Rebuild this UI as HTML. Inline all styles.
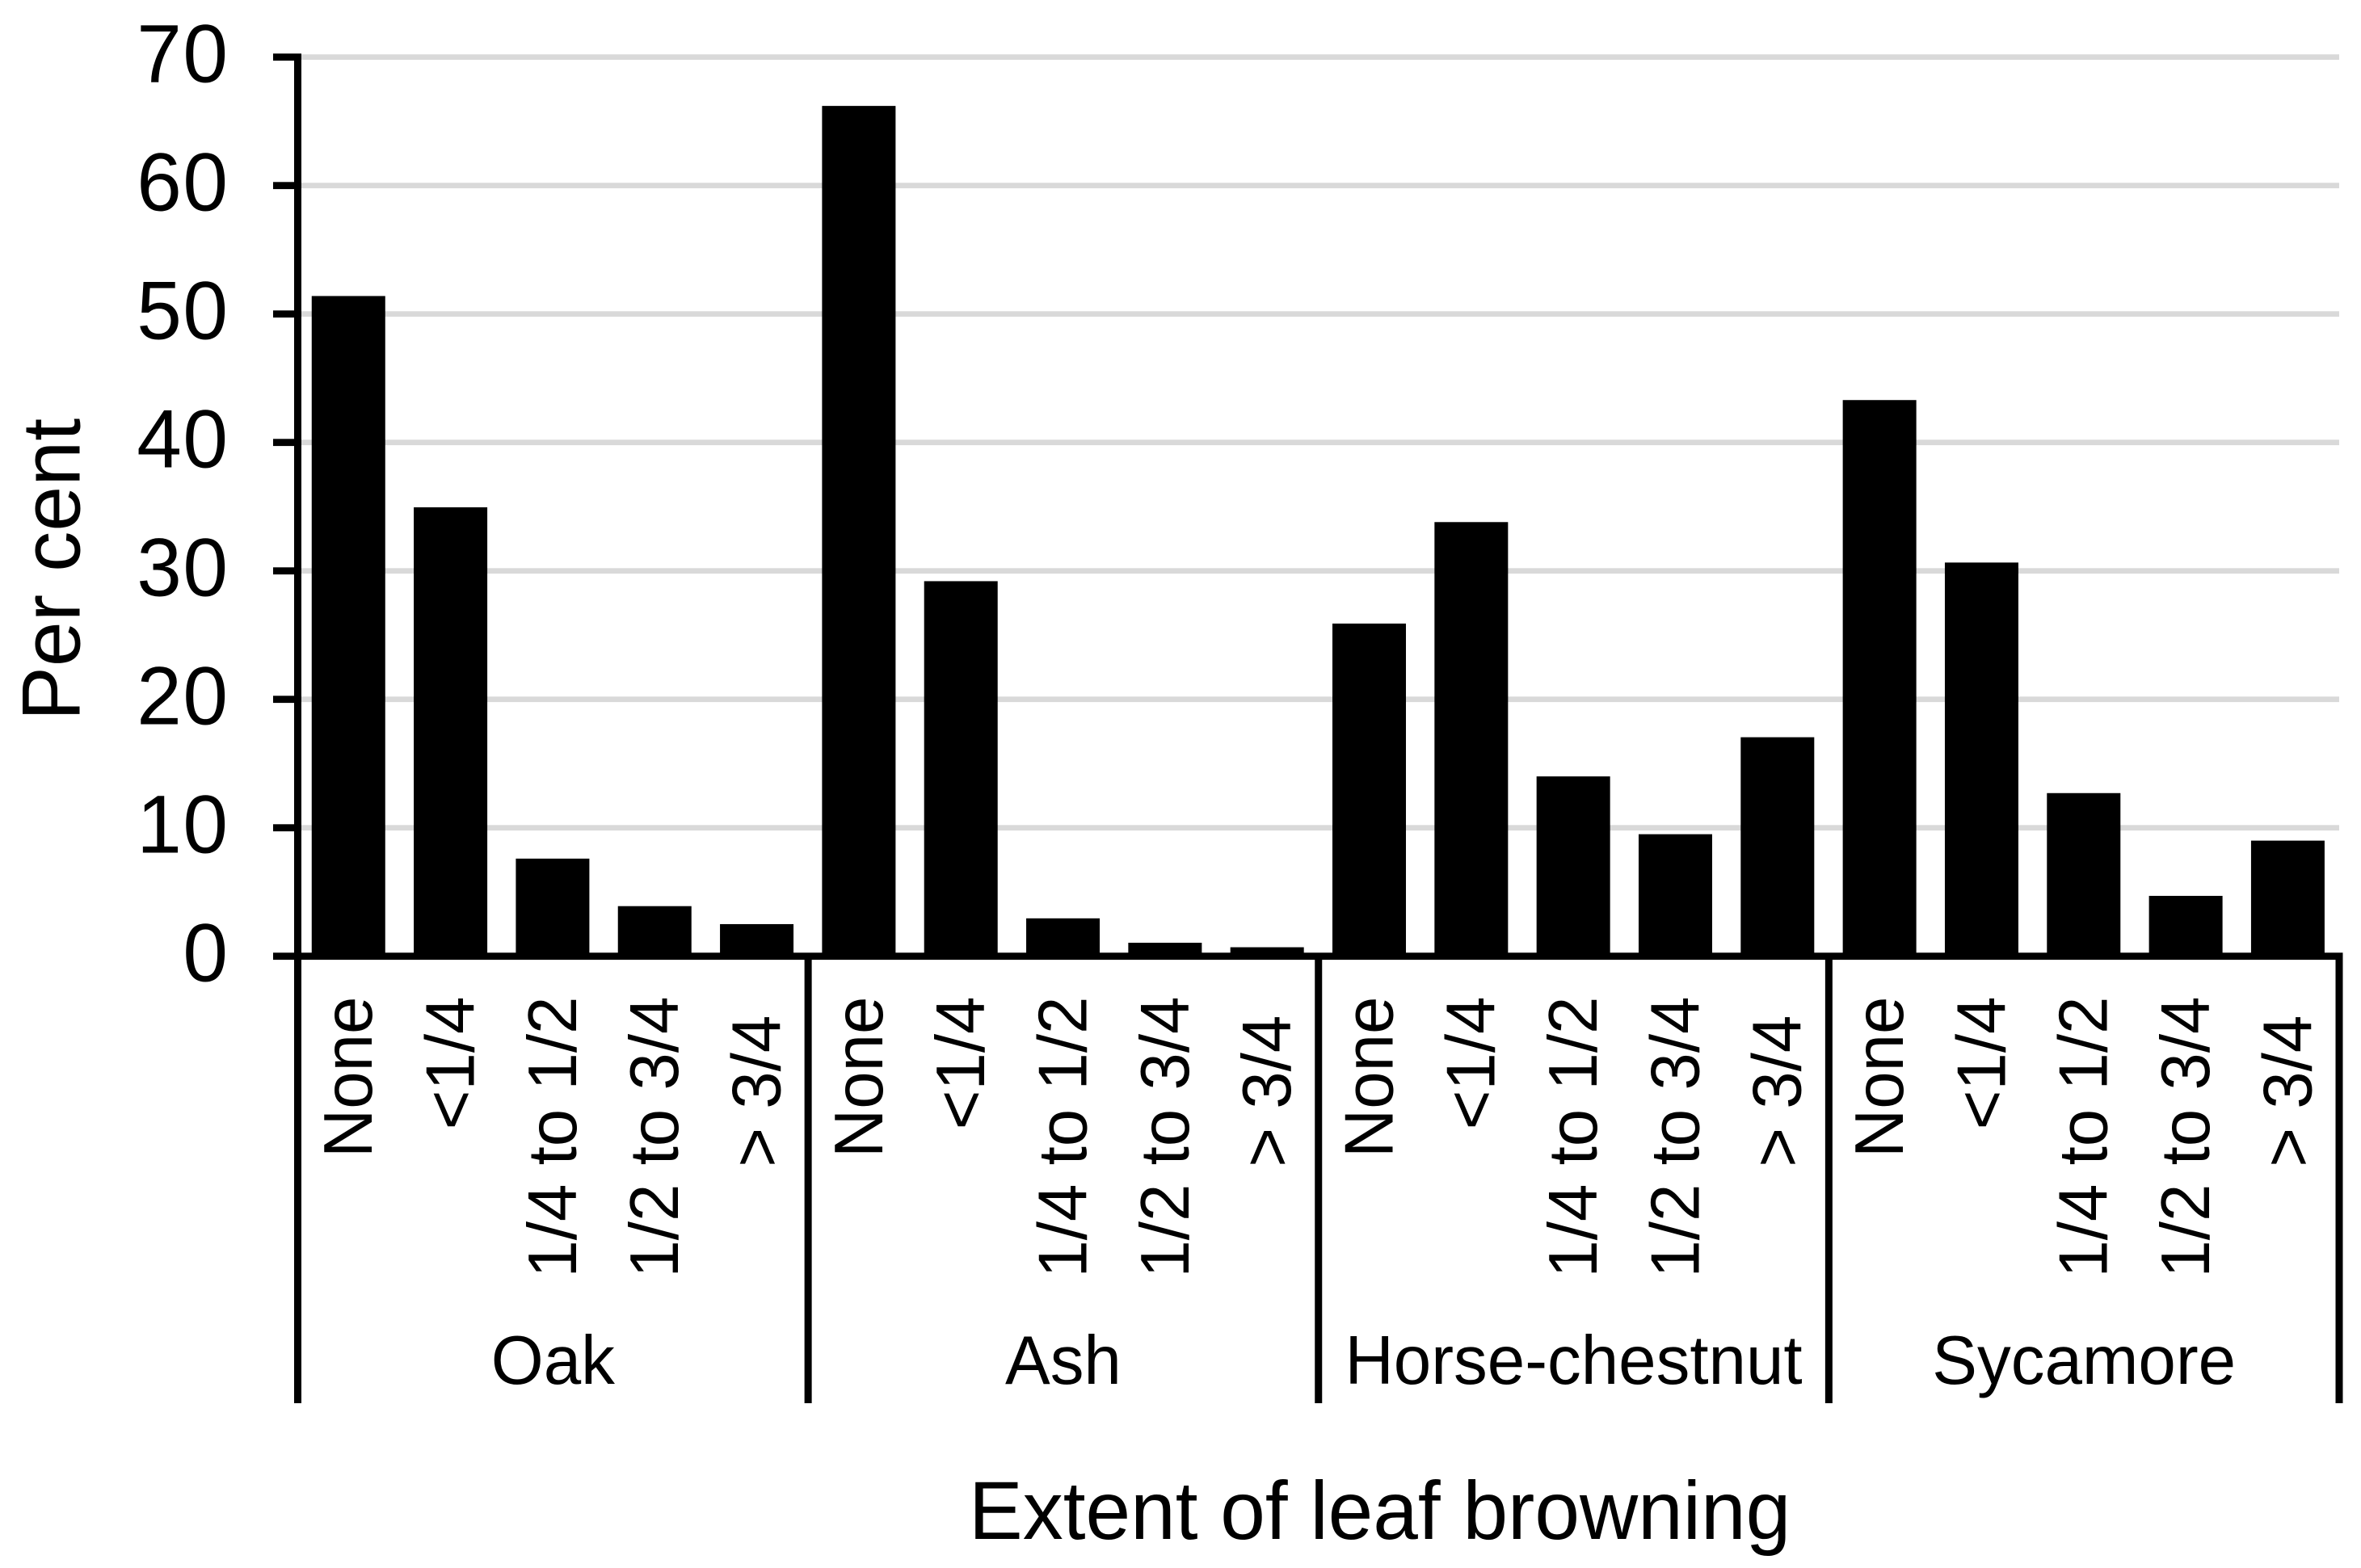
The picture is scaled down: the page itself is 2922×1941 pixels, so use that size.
<!DOCTYPE html>
<html lang="en">
<head>
<meta charset="utf-8">
<title>Extent of leaf browning by tree species</title>
<style>
html,body{margin:0;padding:0;background:#fff;width:2922px;height:1941px;overflow:hidden}
svg{display:block;font-family:"Liberation Sans",Arial,sans-serif;fill:#000}
text{white-space:pre}
</style>
</head>
<body>
<svg id="chart" xmlns="http://www.w3.org/2000/svg" width="2922" height="1941" viewBox="0 0 2922 1941">
  <rect x="0" y="0" width="2922" height="1941" fill="#ffffff"></rect>
  <g id="gridlines"></g>
  <g id="bars"></g>
  <g id="axes"></g>
  <g id="labels"></g>
  <text transform="translate(98.5 705) rotate(-90) scale(1 1.02)" text-anchor="middle" font-size="100.5">Per cent</text>
  <text transform="translate(1199 1905) scale(1 1.02)" text-anchor="start" font-size="100">Extent of leaf browning</text>
</svg>
<script>
const groups = ['Oak', 'Ash', 'Horse-chestnut', 'Sycamore'];
const categories = ['None', '<1/4', '1/4 to 1/2', '1/2 to 3/4', '> 3/4 '];
const oakValues = [51.4, 34.95, 7.6, 3.9, 2.5];
const ashValues = [66.2, 29.2, 2.95, 1.05, 0.7];
const horseChestnutValues = [25.9, 33.8, 14, 9.5, 17.05];
const sycamoreValues = [43.3, 30.65, 12.7, 4.7, 9];
const yTicks = [0, 10, 20, 30, 40, 50, 60, 70];

const seriesValues = [oakValues, ashValues, horseChestnutValues, sycamoreValues];

const NS = 'http://www.w3.org/2000/svg';
const plotLeft = 368.5;
const plotRight = 2895;
const plotZero = 1183.7;
const pxPerUnit = 15.9;
const barWidth = 91;
const groupWidth = (plotRight - plotLeft) / groups.length;
const catWidth = groupWidth / categories.length;
const glyphStretch = 'scale(1 1.02)';

function yScale(v) { return plotZero - v * pxPerUnit; }
function groupX(g) { return plotLeft + g * groupWidth; }
function catCenter(g, c) { return groupX(g) + (c + 0.5) * catWidth; }

function makeRect(parent, x, y, w, h, fill) {
  const r = document.createElementNS(NS, 'rect');
  r.setAttribute('x', x);
  r.setAttribute('y', y);
  r.setAttribute('width', w);
  r.setAttribute('height', h);
  r.setAttribute('fill', fill);
  parent.appendChild(r);
  return r;
}
function makeText(parent, content, size, anchor) {
  const t = document.createElementNS(NS, 'text');
  t.textContent = content;
  t.setAttribute('font-size', size);
  t.setAttribute('text-anchor', anchor);
  parent.appendChild(t);
  return t;
}

const gridLayer = document.getElementById('gridlines');
const barLayer = document.getElementById('bars');
const axisLayer = document.getElementById('axes');
const labelLayer = document.getElementById('labels');

// Gridlines, y ticks and y tick labels
yTicks.forEach(function (v) {
  if (v !== 0) {
    const grid = makeRect(gridLayer, plotLeft + 4.5, yScale(v) - 3.4, plotRight - plotLeft - 4.5, 6.8, '#d9d9d9');
    
    
  }
  const tick = makeRect(axisLayer, 338, yScale(v) - 4.4, 35, 8.8, '#000');
  
  
  const label = makeText(labelLayer, String(v), 100, 'end');
  label.setAttribute('letter-spacing', '1.5');
  label.setAttribute('transform', 'translate(283.5 ' + (yScale(v) + 31) + ') ' + glyphStretch);
  
  
});

// Bars and category labels
groups.forEach(function (group, g) {
  const slug = group.toLowerCase();
  seriesValues[g].forEach(function (value, c) {
    const top = yScale(value);
    const bar = makeRect(barLayer, catCenter(g, c) - barWidth / 2 - 0.4, top, barWidth, plotZero - top, '#000');
    
    
    const cat = makeText(labelLayer, categories[c], 83.5, 'end');
    cat.setAttribute('transform', 'translate(' + (catCenter(g, c) + 28.5) + ' 1233.5) rotate(-90) ' + glyphStretch);
    
    
  });
  const groupLabel = makeText(labelLayer, group, 83.5, 'middle');
  groupLabel.setAttribute('transform', 'translate(' + (groupX(g) + groupWidth / 2) + ' 1713) ' + glyphStretch);
  
  
});

// Axis lines and group separators
const yAxis = makeRect(axisLayer, plotLeft - 4.5, yScale(70) - 1, 9, plotZero - yScale(70) + 1, '#000');


const xAxis = makeRect(axisLayer, plotLeft, plotZero - 4.4, plotRight + 4.5 - plotLeft, 8.8, '#000');


for (let i = 0; i <= groups.length; i++) {
  const sep = makeRect(axisLayer, groupX(i) - 4.5, plotZero, 9, 1737 - plotZero, '#000');
  
  
}
</script>
</body>
</html>
